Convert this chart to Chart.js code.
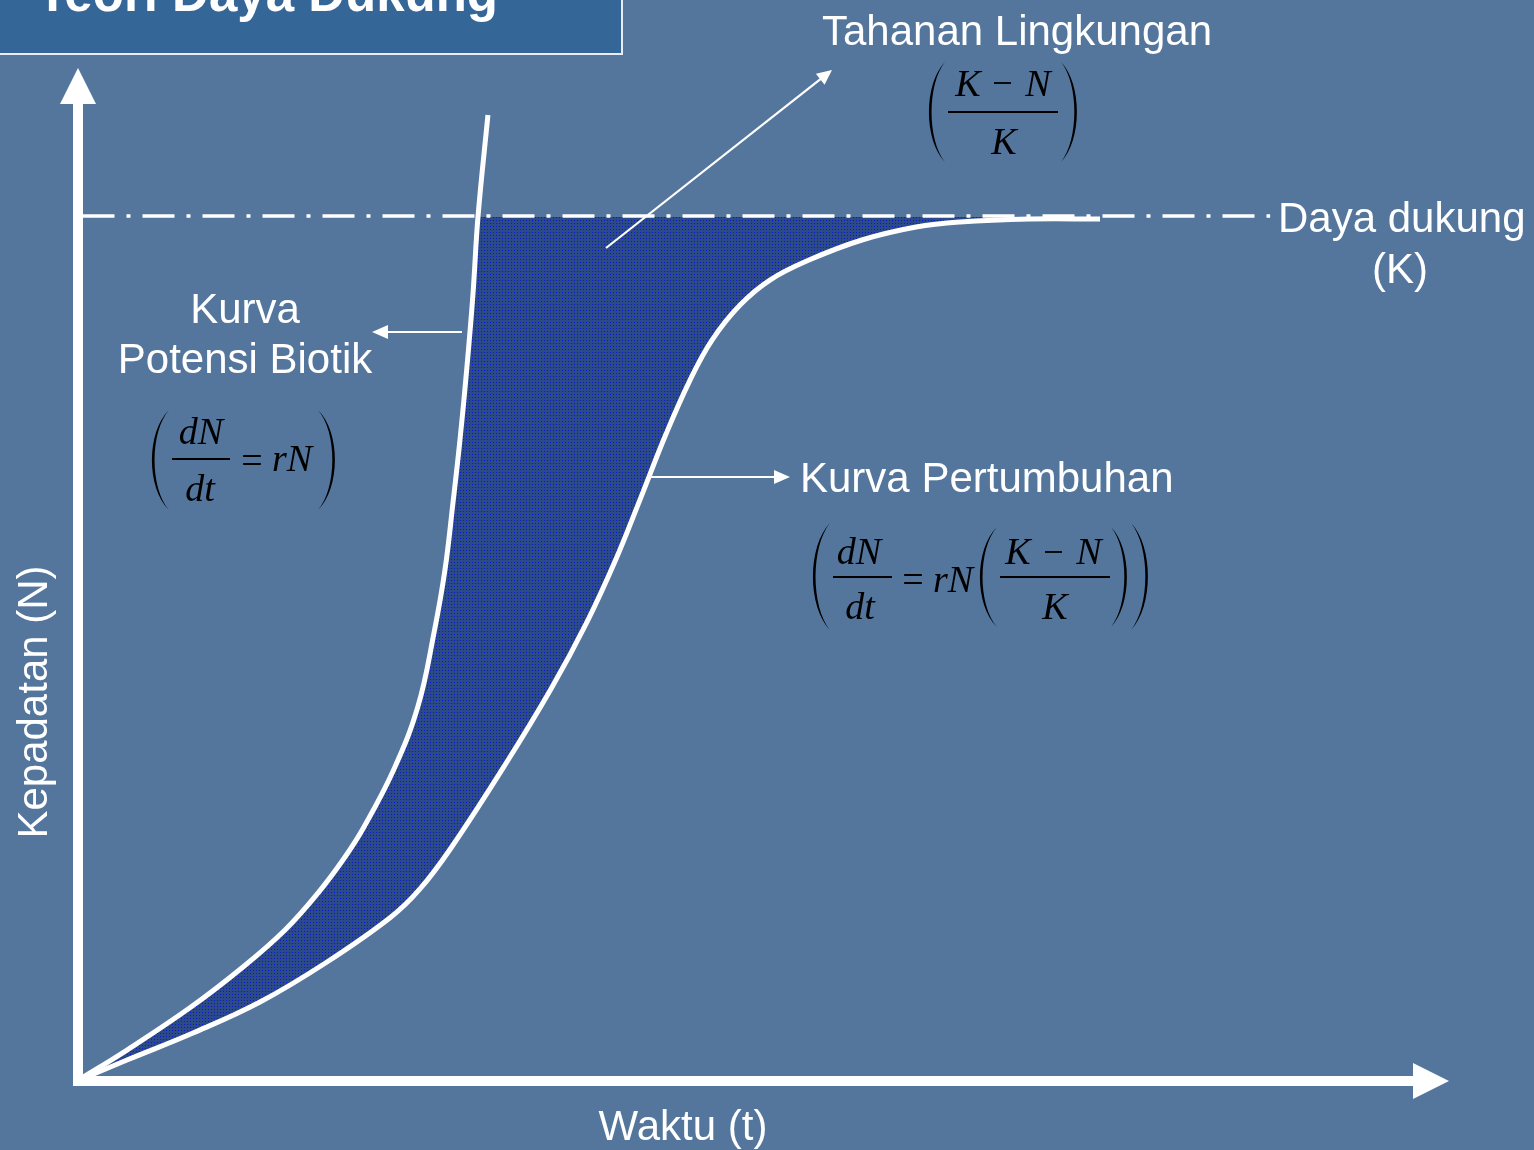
<!DOCTYPE html>
<html>
<head>
<meta charset="utf-8">
<script src="https://cdn.jsdelivr.net/npm/chart.js@4.4.1/dist/chart.umd.min.js"></script>
<style>
html,body{margin:0;padding:0;background:#54769d;overflow:hidden}
canvas{display:block}
</style>
</head>
<body>
<canvas id="c" width="1534" height="1150"></canvas>
<script>
// ---- data ----
const chartTitle = 'Teori Daya Dukung';
const xAxisLabel = 'Waktu (t)';
const yAxisLabel = 'Kepadatan (N)';
const carryingCapacity = 100;     // K
const timeMax = 100;
const densityMax = 117;
const kLineStart = 0.4;
const kLineEnd = 86.9;

// Kurva Potensi Biotik (exponential, dN/dt = rN)
const bioticTime    = [0, 3.64, 8.30, 12.09, 15.15, 17.55, 19.52, 20.90, 23.09, 24.84, 26.0, 26.8, 27.39, 27.9, 28.4, 28.84, 29.21, 29.93];
const bioticDensity = [0, 3.58, 8.55, 13.18, 17.46, 21.73, 25.9, 29.36, 36.07, 43.35, 51.79, 59.08, 66.94, 74.22, 82.54, 90.98, 100, 111.68];

// Kurva Pertumbuhan (logistic)
const growthTime    = [0, 3.64, 8.45, 13.33, 18.21, 22.87, 24.98, 27.24, 31.17, 34.52, 37.14, 39.26, 41.08, 42.9, 44.65, 46.25, 48.29, 50.47, 53.31, 57.17, 61.11, 64.31, 69.41, 74.51];
const growthDensity = [0, 2.43, 5.55, 9.13, 13.76, 18.96, 22.2, 26.94, 36.53, 45.32, 53.06, 60.35, 67.51, 74.8, 81.04, 85.66, 89.71, 92.6, 94.91, 97.23, 98.73, 99.31, 99.65, 99.65];

const labels = {
  resistance: 'Tahanan Lingkungan',
  capacity1: 'Daya dukung',
  capacity2: '(K)',
  biotic1: 'Kurva',
  biotic2: 'Potensi Biotik',
  growth: 'Kurva Pertumbuhan'
};

// ---- helpers ----
const toPoints = (xs, ys) => xs.map((x, i) => ({x, y: ys[i]}));

function makePattern(ctx) {
  const c = document.createElement('canvas');
  c.width = 3; c.height = 3;
  const g = c.getContext('2d');
  g.fillStyle = '#2a4b88';
  g.fillRect(0, 0, 3, 3);
  g.fillStyle = '#1414d0';
  g.fillRect(1, 1, 1, 1);
  return ctx.createPattern(c, 'repeat');
}

function arrow(ctx, x1, y1, x2, y2, w, headLen, headW) {
  const a = Math.atan2(y2 - y1, x2 - x1);
  const c = Math.cos(a), s = Math.sin(a);
  ctx.lineWidth = w;
  ctx.lineCap = 'butt';
  ctx.beginPath();
  ctx.moveTo(x1, y1);
  ctx.lineTo(x2 - c * headLen * 0.9, y2 - s * headLen * 0.9);
  ctx.stroke();
  const bx = x2 - c * headLen, by = y2 - s * headLen;
  ctx.beginPath();
  ctx.moveTo(x2, y2);
  ctx.lineTo(bx - s * headW, by + c * headW);
  ctx.lineTo(bx + s * headW, by - c * headW);
  ctx.closePath();
  ctx.fill();
}

function paren(ctx, xa, xb, y1, y2, left) {
  const h = y2 - y1;
  const th = left ? 2.6 : -2.6;
  const c1 = (xa - 0.25 * xb) / 0.75;
  const c2 = ((xa + th) - 0.25 * xb) / 0.75;
  ctx.beginPath();
  ctx.moveTo(xb, y1);
  ctx.bezierCurveTo(c1, y1 + h * 0.22, c1, y2 - h * 0.22, xb, y2);
  ctx.bezierCurveTo(c2, y2 - h * 0.22, c2, y1 + h * 0.22, xb, y1);
  ctx.closePath();
  ctx.fill();
}

function hline(ctx, x1, x2, y, w) {
  ctx.lineWidth = w;
  ctx.beginPath();
  ctx.moveTo(x1, y); ctx.lineTo(x2, y);
  ctx.stroke();
}

const SERIF_I = 'italic 38px "Liberation Serif", "Times New Roman", serif';
const SERIF = '38px "Liberation Serif", "Times New Roman", serif';

function drawFormulas(ctx) {
  ctx.save();
  ctx.fillStyle = '#000';
  ctx.strokeStyle = '#000';
  ctx.textAlign = 'center';
  ctx.textBaseline = 'alphabetic';

  // (K - N) / K
  paren(ctx, 929, 945, 62, 162, true);
  paren(ctx, 1077, 1061, 62, 162, false);
  ctx.font = SERIF_I;
  ctx.fillText('K', 968, 96);
  ctx.fillText('N', 1038, 96);
  hline(ctx, 994, 1011, 83, 1.8);
  hline(ctx, 948, 1058, 112, 1.8);
  ctx.fillText('K', 1004, 154);

  // dN/dt = rN
  paren(ctx, 152, 169, 410, 510, true);
  paren(ctx, 335, 318, 410, 510, false);
  ctx.font = SERIF_I;
  ctx.fillText('dN', 201, 444);
  hline(ctx, 172, 230, 459, 1.8);
  ctx.fillText('dt', 200, 501);
  ctx.font = SERIF;
  ctx.fillText('=', 252, 473);
  ctx.font = SERIF_I;
  ctx.fillText('rN', 292, 471);

  // dN/dt = rN ((K - N)/K)
  paren(ctx, 813, 830, 523, 630, true);
  paren(ctx, 1148, 1131, 523, 630, false);
  paren(ctx, 980, 997, 527, 627, true);
  paren(ctx, 1127, 1111, 527, 627, false);
  ctx.font = SERIF_I;
  ctx.fillText('dN', 859, 564);
  hline(ctx, 833, 892, 577, 1.8);
  ctx.fillText('dt', 860, 619);
  ctx.font = SERIF;
  ctx.fillText('=', 913, 592);
  ctx.font = SERIF_I;
  ctx.fillText('rN', 953, 592);
  ctx.fillText('K', 1018, 564);
  hline(ctx, 1045, 1062, 552, 1.8);
  ctx.fillText('N', 1089, 564);
  hline(ctx, 1000, 1110, 577, 1.8);
  ctx.fillText('K', 1055, 619);
  ctx.restore();
}

// ---- plugins ----
const backdrop = {
  id: 'backdrop',
  beforeDraw(chart) {
    const ctx = chart.ctx;
    ctx.save();
    ctx.fillStyle = '#54769d';
    ctx.fillRect(0, 0, chart.width, chart.height);
    // title box
    ctx.fillStyle = '#346698';
    ctx.fillRect(-3, -3, 625, 57);
    ctx.strokeStyle = '#e8eef5';
    ctx.lineWidth = 2;
    ctx.strokeRect(-3, -3, 625, 57);
    ctx.fillStyle = '#fff';
    ctx.font = 'bold 51px "Liberation Sans", Arial, sans-serif';
    ctx.textBaseline = 'alphabetic';
    ctx.textAlign = 'left';
    ctx.fillText(chartTitle, 37, 11);
    ctx.restore();
  }
};

const resistanceFill = {
  id: 'resistanceFill',
  beforeDatasetsDraw(chart) {
    const ctx = chart.ctx;
    const area = chart.chartArea;
    const y = chart.scales.y;
    const jLine = chart.getDatasetMeta(0).dataset;
    const sLine = chart.getDatasetMeta(1).dataset;
    jLine.updateControlPoints(area, 'x');
    sLine.updateControlPoints(area, 'x');
    const kPix = y.getPixelForValue(carryingCapacity);
    ctx.save();
    ctx.beginPath();
    ctx.rect(0, kPix + 1, chart.width, chart.height - kPix);
    ctx.clip();
    ctx.beginPath();
    for (const seg of jLine.segments) jLine.pathSegment(ctx, seg, {move: true});
    for (const seg of sLine.segments) sLine.pathSegment(ctx, seg, {move: false, reverse: true});
    ctx.closePath();
    ctx.fillStyle = makePattern(ctx);
    ctx.fill();
    ctx.restore();
  }
};

const overlay = {
  id: 'overlay',
  afterDatasetsDraw(chart) {
    const ctx = chart.ctx;
    const area = chart.chartArea;
    const xs = chart.scales.x, ys = chart.scales.y;
    const x0 = xs.getPixelForValue(0) + 1;
    const y0 = ys.getPixelForValue(0);
    ctx.save();
    ctx.fillStyle = '#fff';
    ctx.strokeStyle = '#fff';
    // axes
    arrow(ctx, x0, y0 + 5, x0, area.top - 1, 10, 36, 18);
    arrow(ctx, x0 - 5, y0, area.right - 1, y0, 10, 36, 18);
    // annotation arrows
    arrow(ctx, 606, 248, 832, 70, 2.2, 15, 7);
    arrow(ctx, 462, 332, 372, 332, 2.2, 16, 7);
    arrow(ctx, 650, 477, 790, 477, 2.2, 16, 7);
    // texts
    ctx.font = '42px "Liberation Sans", Arial, sans-serif';
    ctx.textBaseline = 'alphabetic';
    ctx.textAlign = 'left';
    ctx.fillText(labels.resistance, 822, 45);
    ctx.fillText(labels.capacity1, 1278, 232);
    ctx.fillText(labels.growth, 800, 492);
    ctx.textAlign = 'center';
    ctx.fillText(labels.capacity2, 1400, 283);
    ctx.fillText(labels.biotic1, 245, 323);
    ctx.fillText(labels.biotic2, 245, 373);
    ctx.fillText(xAxisLabel, 683, 1140);
    ctx.save();
    ctx.translate(47, 702);
    ctx.rotate(-Math.PI / 2);
    ctx.fillText(yAxisLabel, 0, 0);
    ctx.restore();
    ctx.restore();
    drawFormulas(ctx);
  }
};

// ---- chart ----
const curveStyle = {
  showLine: true,
  borderColor: '#ffffff',
  borderWidth: 5,
  pointRadius: 0,
  tension: 0.4,
  fill: false,
  clip: false
};

const chart = new Chart(document.getElementById('c'), {
  type: 'scatter',
  data: {
    datasets: [
      Object.assign({label: 'Kurva Potensi Biotik', data: toPoints(bioticTime, bioticDensity)}, curveStyle),
      Object.assign({label: 'Kurva Pertumbuhan', data: toPoints(growthTime, growthDensity)}, curveStyle),
      {
        label: 'Daya dukung (K)',
        data: [{x: kLineStart, y: carryingCapacity}, {x: kLineEnd, y: carryingCapacity}],
        showLine: true,
        borderColor: '#ffffff',
        borderWidth: 3.5,
        borderDash: [32, 12, 4, 12],
        borderCapStyle: 'butt',
        pointRadius: 0,
        fill: false,
        clip: false
      }
    ]
  },
  options: {
    responsive: false,
    animation: false,
    events: [],
    layout: {padding: {left: 77, right: 84, top: 69, bottom: 69}},
    scales: {
      x: {type: 'linear', min: 0, max: timeMax, display: false},
      y: {type: 'linear', min: 0, max: densityMax, display: false}
    },
    plugins: {
      legend: {display: false},
      tooltip: {enabled: false},
      title: {display: false}
    }
  },
  plugins: [backdrop, resistanceFill, overlay]
});
</script>
</body>
</html>
